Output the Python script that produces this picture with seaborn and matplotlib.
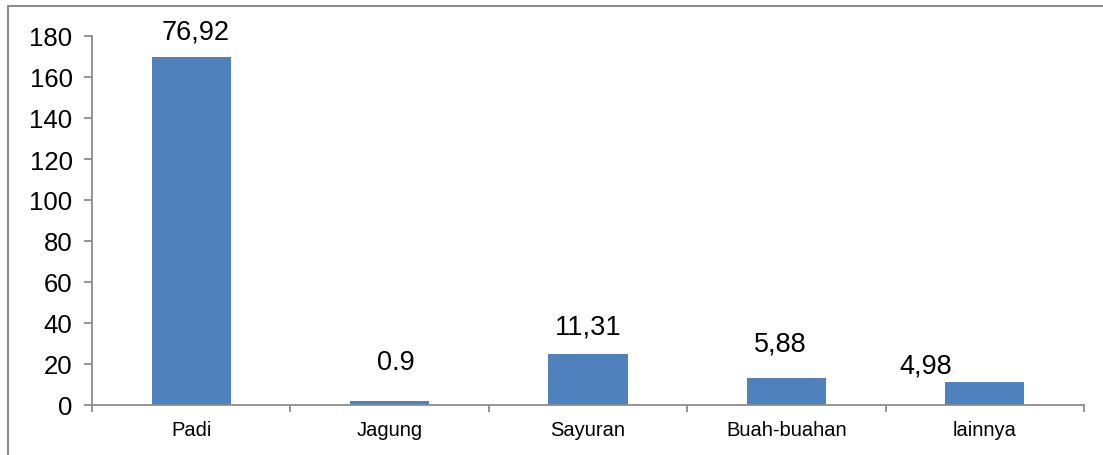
import matplotlib
matplotlib.use("Agg")
import matplotlib.pyplot as plt
import seaborn as sns
import pandas as pd
from matplotlib.lines import Line2D

# Commodity counts and their share labels (percent of total)
categories = ["Padi", "Jagung", "Sayuran", "Buah-buahan", "lainnya"]
values = [170, 2, 25, 13, 11]
share_labels = ["76,92", "0.9", "11,31", "5,88", "4,98"]

# Label placement (x offset in category units, y centre in data units)
label_dx = [0.02, 0.03, 0.0, -0.03, -0.30]
label_y = [182, 21, 38.5, 30, 19.5]

sns.set_theme(style="white")
plt.rcParams["font.family"] = ["Liberation Sans", "DejaVu Sans"]

df = pd.DataFrame({"kategori": categories, "nilai": values})

fig = plt.figure(figsize=(11.03, 4.56), dpi=100)
ax = fig.add_axes([92 / 1103, 50 / 456, 992 / 1103, 369 / 456])

sns.barplot(data=df, x="kategori", y="nilai", color="#4F81BD", width=0.4,
            saturation=1, linewidth=0, ax=ax)

ax.set_xlim(-0.5, len(categories) - 0.5)
ax.set_ylim(0, 180)
ax.set_yticks(range(0, 181, 20))
ax.set_xlabel("")
ax.set_ylabel("")

spine_col = "#8c8c8c"
for side in ["top", "right"]:
    ax.spines[side].set_visible(False)
for side in ["left", "bottom"]:
    ax.spines[side].set_color(spine_col)
    ax.spines[side].set_linewidth(1.3)

ax.tick_params(axis="y", which="major", direction="out", length=6, width=1.3,
               color=spine_col, labelsize=18.5, labelcolor="black", pad=8, left=True)
ax.tick_params(axis="x", which="major", length=0, labelsize=14.5,
               labelcolor="black", pad=11)
# category boundary ticks
ax.set_xticks([i - 0.5 for i in range(len(categories) + 1)], minor=True)
ax.tick_params(axis="x", which="minor", direction="out", length=5, width=1.3,
               color=spine_col, bottom=True)

for i, (lab, dx, y) in enumerate(zip(share_labels, label_dx, label_y)):
    ax.text(i + dx, y, lab, ha="center", va="center", fontsize=19.5, color="black")

# thin frame around the figure (left and top edges)
fig.add_artist(Line2D([8 / 1103, 8 / 1103], [0, 1 - 7 / 456], transform=fig.transFigure,
                      color="#8c8c8c", lw=1.5))
fig.add_artist(Line2D([8 / 1103, 1], [1 - 7 / 456, 1 - 7 / 456], transform=fig.transFigure,
                      color="#8c8c8c", lw=1.5))

fig.savefig("out.png", dpi=100)
